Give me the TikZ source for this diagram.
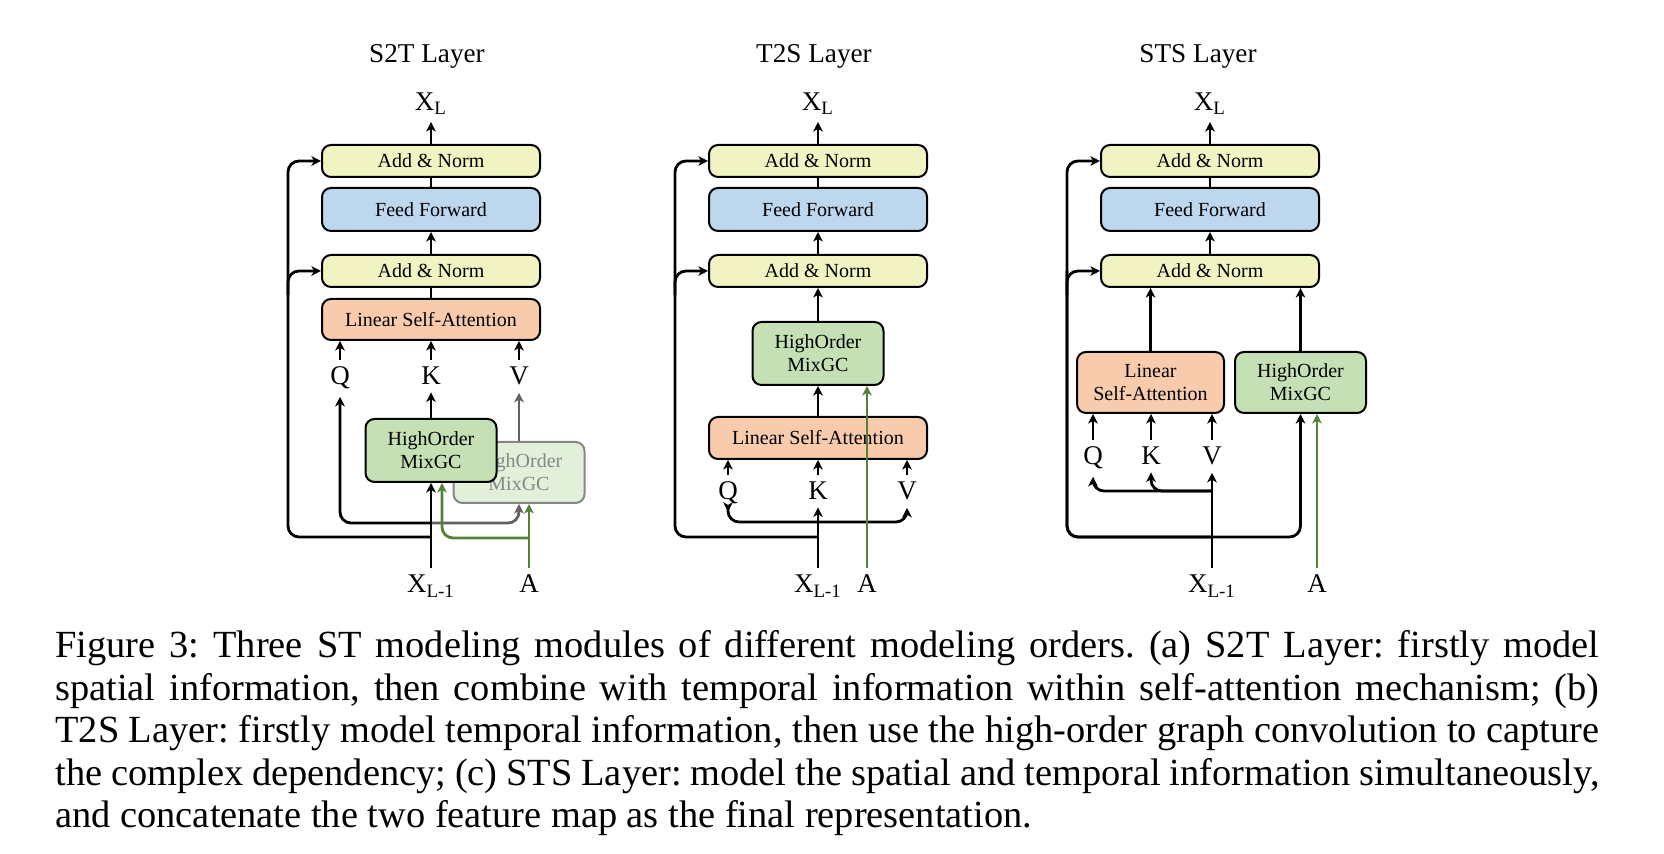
\documentclass[tikz,border=0pt]{standalone}
\usepackage{fontspec}
\setmainfont{Liberation Serif}
\usepackage{xcolor}
\usetikzlibrary{arrows.meta,positioning,calc}
\definecolor{normyellow}{HTML}{F1F3C3}
\definecolor{ffblue}{HTML}{BDD7EE}
\definecolor{attnorange}{HTML}{F8CBAD}
\definecolor{gcgreen}{HTML}{C5E0B4}
\definecolor{adjgreen}{HTML}{548235}
\definecolor{fadefill}{HTML}{E2F0DA}
\definecolor{fadegray}{HTML}{868686}
\newcommand\captspacing{\frenchspacing\spaceskip=0.25em plus 0.6em minus 0.12em\relax}

\begin{document}
\begin{tikzpicture}[x=1pt,y=1pt,
  font=\fontsize{10}{11.5}\selectfont,
  box/.style={draw,rounded corners=4.5pt,line width=1pt,align=center,inner sep=0pt},
  an/.style={box,fill=normyellow,minimum width=109pt,minimum height=16pt},
  ff/.style={box,fill=ffblue,minimum width=109pt,minimum height=21.5pt},
  lsa/.style={box,fill=attnorange,minimum width=109pt,minimum height=20.5pt},
  ho/.style={box,fill=gcgreen,minimum width=65.5pt,minimum height=31.5pt},
  lab/.style={inner sep=3.5pt,font=\fontsize{13.5}{15}\selectfont},
  ttl/.style={inner sep=0pt,anchor=base,font=\fontsize{13.6}{16}\selectfont},
  capt/.style={inner sep=0pt,text width=772pt,align=left,font=\fontsize{19.2}{21.25}\selectfont},
  arr/.style={-{Stealth[length=4.8pt,width=4.8pt,inset=1.4pt]},line width=1.4pt,rounded corners=5.5pt},
  ln/.style={line width=1.4pt},
  grn/.style={arr,adjgreen},
  gry/.style={arr,black!62}]
\useasboundingbox (0,0) rectangle (832,427);

% S2T layer
\node[ttl] (tS2T) at (213.5,395.5) {S2T Layer};
\node[an] (an1A) at (215.5,346.5) {Add \& Norm};
\node[ff,below=4.5pt of an1A] (ffA) {Feed Forward};
\node[an,below=11pt of ffA] (an2A) {Add \& Norm};
\node[lsa,below=5pt of an2A] (lsaA) {Linear Self-Attention};
\node[lab,above=11pt of an1A] (xlA) {X\textsubscript{L}};
\node[lab,anchor=base] (qA) at (170,234.5) {Q};
\node[lab,anchor=base] (kA) at (215.5,234.5) {K};
\node[lab,anchor=base] (vA) at (259.5,234.5) {V};
\node[ho,fill=fadefill,draw=fadegray,text=fadegray,minimum height=30.5pt] (hoB) at (259.5,190.75) {HighOrder\\MixGC};
\node[ho] (hoA) at (215.5,201.75) {HighOrder\\MixGC};
\node[lab,anchor=base] (xinA) at (215.5,130.5) {X\textsubscript{L-1}};
\node[lab,anchor=base] (ainA) at (264.5,130.5) {A};
\draw[arr] (an1A) -- (xlA);
\draw[ln] (ffA) -- (an1A);
\draw[arr] (an2A) -- (ffA);
\draw[ln] (lsaA) -- (an2A);
\draw[arr] (qA) -- (qA |- lsaA.south);
\draw[arr] (kA) -- (kA |- lsaA.south);
\draw[arr] (vA) -- (vA |- lsaA.south);
\draw[arr] (hoA) -- (kA);
\draw[gry] (hoB) -- (vA);
\draw[arr] (xinA |- 0,165.5) -| (qA);
\draw[gry] (xinA |- 0,165.5) -| (hoB.south);
\draw[arr] (xinA) -- (hoA);
\draw[arr] (xinA |- 0,158.5) -| ([xshift=-16.5pt]an1A.west) -- (an1A.west);
\draw[arr] ([xshift=-16.5pt,yshift=-12pt]an2A.west) |- (an2A.west);
\draw[grn] (ainA) -- (ainA |- hoB.south);
\draw[grn] (ainA |- 0,158) -| ([xshift=5.5pt]hoA.south);

% T2S layer
\node[ttl] (tT2S) at (407,395.5) {T2S Layer};
\node[an] (an1B) at (409,346.5) {Add \& Norm};
\node[ff,below=4.5pt of an1B] (ffB) {Feed Forward};
\node[an,below=11pt of ffB] (an2B) {Add \& Norm};
\node[ho,below=16.5pt of an2B] (hoT) {HighOrder\\MixGC};
\node[lsa,minimum height=21pt,below=15pt of hoT] (lsaT) {Linear Self-Attention};
\node[lab,above=11pt of an1B] (xlB) {X\textsubscript{L}};
\node[lab,anchor=base] (qB) at (364,177) {Q};
\node[lab,anchor=base] (kB) at (409,177) {K};
\node[lab,anchor=base] (vB) at (453.5,177) {V};
\node[lab,anchor=base] (xinB) at (409,130.5) {X\textsubscript{L-1}};
\node[lab,anchor=base] (ainB) at (433.5,130.5) {A};
\draw[arr] (an1B) -- (xlB);
\draw[ln] (ffB) -- (an1B);
\draw[arr] (an2B) -- (ffB);
\draw[arr] (hoT) -- (an2B);
\draw[arr] (lsaT) -- (hoT);
\draw[arr] (qB) -- (qB |- lsaT.south);
\draw[arr] (kB) -- (kB |- lsaT.south);
\draw[arr] (vB) -- (vB |- lsaT.south);
\draw[arr] (xinB) -- (kB);
\draw[arr] (xinB |- 0,166) -| (qB);
\draw[arr] (xinB |- 0,166) -| (vB);
\draw[arr] (xinB |- 0,158.5) -| ([xshift=-16.5pt]an1B.west) -- (an1B.west);
\draw[arr] ([xshift=-16.5pt,yshift=-12pt]an2B.west) |- (an2B.west);
\draw[grn] (ainB) -- (ainB |- hoT.south);

% STS layer
\node[ttl] (tSTS) at (599,395.5) {STS Layer};
\node[an] (an1C) at (605,346.5) {Add \& Norm};
\node[ff,below=4.5pt of an1C] (ffC) {Feed Forward};
\node[an,below=11pt of ffC] (an2C) {Add \& Norm};
\node[box,fill=attnorange,minimum width=73.5pt,minimum height=30.5pt] (lsaS) at (575.25,235.75) {Linear\\Self-Attention};
\node[ho,minimum height=30.5pt] (hoS) at (650.25,235.75) {HighOrder\\MixGC};
\node[lab,above=11pt of an1C] (xlC) {X\textsubscript{L}};
\node[lab,anchor=base] (qC) at (546.5,194.5) {Q};
\node[lab,anchor=base] (kC) at (575.5,194.5) {K};
\node[lab,anchor=base] (vC) at (606,194.5) {V};
\node[lab,anchor=base] (xinC) at (606,130.5) {X\textsubscript{L-1}};
\node[lab,anchor=base] (ainC) at (658.5,130.5) {A};
\draw[arr] (an1C) -- (xlC);
\draw[ln] (ffC) -- (an1C);
\draw[arr] (an2C) -- (ffC);
\draw[arr] (lsaS.north) -- (lsaS.north |- an2C.south);
\draw[arr] (hoS.north) -- (hoS.north |- an2C.south);
\draw[arr] (qC) -- (qC |- lsaS.south);
\draw[arr] (kC) -- (kC |- lsaS.south);
\draw[arr] (vC) -- (vC |- lsaS.south);
\draw[arr] (xinC) -- (vC);
\draw[arr] (xinC |- 0,181.5) -| (qC);
\draw[arr] (xinC |- 0,181.5) -| (kC);
\draw[arr] ([xshift=-16.5pt]an2C.west) |- (hoS.south |- 0,158.5) -- (hoS.south);
\draw[arr] (xinC |- 0,158.5) -| ([xshift=-16.5pt]an1C.west) -- (an1C.west);
\draw[arr] ([xshift=-16.5pt,yshift=-12pt]an2C.west) |- (an2C.west);
\draw[grn] (ainC) -- (ainC |- hoS.south);

% caption
\node[capt,anchor=base west] (cap) at (27.5,98) {\captspacing
\makebox[772pt][s]{Figure 3: Three ST modeling modules of different modeling orders. (a) S2T Layer: firstly model}\\
\makebox[772pt][s]{spatial information, then combine with temporal information within self-attention mechanism; (b)}\\
\makebox[772pt][s]{T2S Layer: firstly model temporal information, then use the high-order graph convolution to capture}\\
\makebox[772pt][s]{the complex dependency; (c) STS Layer: model the spatial and temporal information simultaneously,}\\
and concatenate the two feature map as the final representation.};
\end{tikzpicture}
\end{document}
